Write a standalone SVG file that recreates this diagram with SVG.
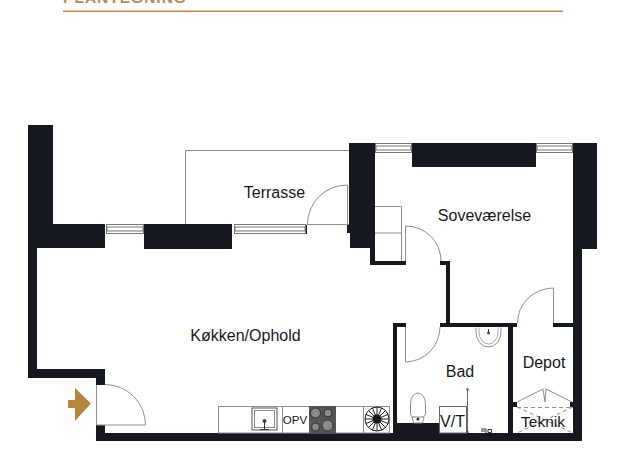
<svg xmlns="http://www.w3.org/2000/svg" width="625" height="460" viewBox="0 0 625 460">
<style>
text{font-family:"Liberation Sans",Arial,sans-serif;fill:#16181f;font-size:16px;text-anchor:middle}
.w{fill:#16181f}
.t{fill:none;stroke:#8e8e8e;stroke-width:1}
.win{fill:#fff;stroke:#777;stroke-width:1}
.d{fill:none;stroke:#8e8e8e;stroke-width:1;stroke-dasharray:4 3}
.k{fill:none;stroke:#333;stroke-width:1}
</style>
<rect width="625" height="460" fill="#fff"/>
<g id="title">
<text x="125" y="3" style="font-size:15.5px;font-weight:bold;fill:#b08d57;letter-spacing:1px">PLANTEGNING</text>
<rect x="63" y="10.500" width="500" height="1.600" fill="#b08d57"/>
</g>
<g id="terrace-lines">
<path class="t" d="M185.500 224V150.500H349M307 224.500H349"/>
</g>
<g id="walls">
<path class="w" d="M28 125H53V224H105V248H37V369H105V385H96V378H28Z"/>
<rect class="w" x="144" y="224" width="88" height="25"/>
<rect class="w" x="305" y="225" width="2" height="9"/>
<path class="w" d="M349 143H375V261H406V265H370V248H350V233H347V225H349Z"/>
<rect class="w" x="412" y="143" width="124" height="24"/>
<path class="w" d="M573 143H597V249H582V441H96V425H105V433H573Z"/>
<path class="w" d="M440 261H450V323H517V327H513V433H508V327H440V323H446V265H440Z"/>
<path class="w" d="M393 323H406V327H397V423H439V433H393Z"/>
<rect class="w" x="553" y="323" width="20" height="4"/>
<rect class="w" x="513" y="402" width="4" height="5"/>
<rect class="w" x="570" y="402" width="5" height="5"/>
</g>
<g id="windows">
<g class="win"><rect x="106.500" y="224.500" width="37" height="9"/><rect x="107" y="227" width="36" height="4"/></g>
<g class="win"><rect x="234.500" y="224.500" width="71" height="9"/><rect x="235" y="227" width="70" height="4"/></g>
<g class="win"><rect x="375.500" y="143.500" width="36" height="9"/><rect x="376" y="146" width="35" height="4"/></g>
<g class="win"><rect x="536.500" y="143.500" width="36" height="9"/><rect x="537" y="146" width="35" height="4"/></g>
</g>
<g id="doors">
<path class="t" d="M347.500 224V185A40 39 0 0 0 307.500 224"/>
<path class="t" d="M96.500 385V425H145.500A40.500 40.500 0 0 0 105 384.500"/>
<path class="t" d="M405.500 261V226A35 35 0 0 1 441 261"/>
<path class="t" d="M553.500 323V288A36 35 0 0 0 517.500 323"/>
<path class="t" d="M405.500 327V362A35 35 0 0 0 440 327"/>
<path class="t" d="M517 402L543 389L545 402L546 389L572 402"/>
<path class="d" d="M517 407.500H573M517 407L573 433M573 407L517 433"/>
</g>
<g id="closet">
<path class="t" d="M375 206.500H401.500V261M375 233H401.500"/>
</g>
<g id="kitchen">
<rect class="t" x="218.500" y="406.500" width="171" height="26.500"/>
<path class="t" d="M282.500 406.500V433M363.500 406.500V433"/>
<rect x="252" y="408" width="25" height="22" fill="#fff" stroke="#555" stroke-width="1"/>
<rect x="254.500" y="410.500" width="20" height="17" fill="#fff" stroke="#888" stroke-width="1"/>
<circle cx="264.500" cy="421" r="2" fill="#444"/><path class="k" d="M264.500 421V430M260 429.500H269"/>
<rect x="309" y="406" width="27" height="27" fill="#555"/>
<circle cx="315.500" cy="413" r="5" fill="#8a8a8a" stroke="#333"/>
<circle cx="328" cy="413" r="4" fill="#8a8a8a" stroke="#333"/>
<circle cx="315.500" cy="427" r="4" fill="#8a8a8a" stroke="#333"/>
<circle cx="327.500" cy="425.500" r="5.500" fill="#8a8a8a" stroke="#333"/>
<g id="vent">
<circle cx="377" cy="419" r="12" fill="#fff" stroke="#222" stroke-width="1"/>
<path stroke="#222" stroke-width="1" d="M377 407V431M365 419H389M368.500 410.500L385.500 427.500M385.500 410.500L368.500 427.500M372.400 407.900L381.600 430.100M381.600 407.900L372.400 430.100M365.900 414.400L388.100 423.600M388.100 414.400L365.900 423.600"/>
<circle cx="377" cy="419" r="4.500" fill="#16181f"/>
</g>
<text x="295" y="424" style="font-size:11.5px">OPV</text>
</g>
<g id="bath">
<path d="M476 327.500V332A12.500 15 0 0 0 501 332V327.500" fill="#fff" stroke="#8e8e8e"/>
<path d="M479 327.500V332A9.500 12 0 0 0 498 332V327.500" fill="none" stroke="#aaa"/>
<circle cx="488.500" cy="333" r="1.500" fill="#555"/><path class="k" d="M488.500 329V333"/>
<path d="M410.500 404A7.500 11 0 0 1 425.500 404V414A7.500 4 0 0 1 410.500 414Z" fill="#fff" stroke="#8e8e8e"/>
<path d="M412 417H424L422.500 423H413.500Z" fill="#fff" stroke="#8e8e8e"/>
<circle cx="418" cy="419" r="1.500" fill="#333"/>
<rect x="439.500" y="406.500" width="27" height="26.500" fill="#fff" stroke="#666"/>
<path d="M467.500 390V432" stroke="#666" stroke-width="1"/>
<circle cx="467.500" cy="389.500" r="1.200" fill="#555"/>
<circle cx="467.500" cy="432" r="1.200" fill="#555"/>
<path class="k" d="M481 429H486V433M481 431H485M488 429.500H491.500V432.500H488Z" stroke-width=".7"/>
</g>
<g id="arrow">
<path fill="#b8863b" d="M68 400H75V388L91 403.500L75 421V408H68Z"/>
</g>
<g id="labels">
<text x="274.500" y="198">Terrasse</text>
<text x="484.500" y="221">Soveværelse</text>
<text x="245.500" y="341">Køkken/Ophold</text>
<text x="460" y="377">Bad</text>
<text x="544" y="368">Depot</text>
<text x="543" y="427" style="font-size:15.500px">Teknik</text>
<text x="452.500" y="427">V/T</text>
</g>
</svg>
